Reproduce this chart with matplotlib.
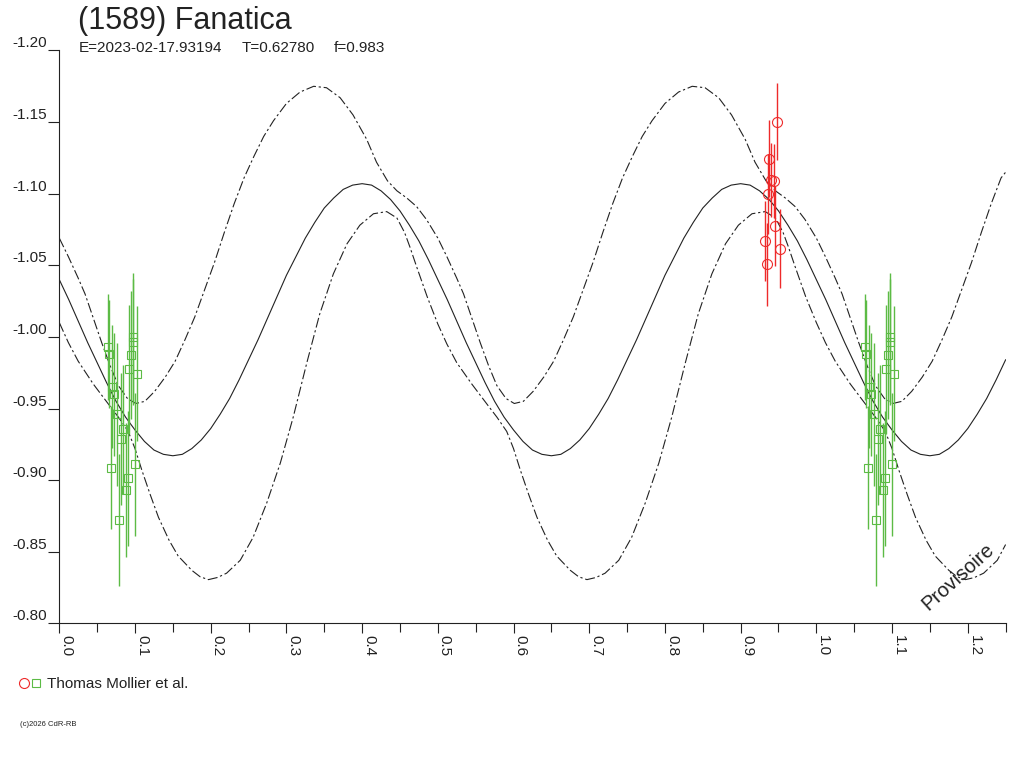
import numpy as np
import matplotlib
matplotlib.use("Agg")
import matplotlib.pyplot as plt
from matplotlib.lines import Line2D

plt.rcParams['font.family'] = ['Liberation Sans', 'DejaVu Sans']

# fitted lightcurve (solid), sampled every 0.0125 in phase
model_phase = np.linspace(0.0, 1.25, 101)
model_mag = [-1.040, -1.026, -1.011, -0.996, -0.982, -0.968, -0.955, -0.944, -0.935, -0.927,
             -0.921, -0.918, -0.917, -0.918, -0.922, -0.928, -0.936, -0.946, -0.957, -0.970,
             -0.984, -0.998, -1.013, -1.028, -1.043, -1.056, -1.069, -1.080, -1.090, -1.097,
             -1.103, -1.106, -1.107, -1.106, -1.102, -1.096, -1.088, -1.078, -1.067, -1.054,
             -1.040, -1.026, -1.011, -0.996, -0.982, -0.968, -0.955, -0.944, -0.935, -0.927,
             -0.921, -0.918, -0.917, -0.918, -0.922, -0.928, -0.936, -0.946, -0.957, -0.970,
             -0.984, -0.998, -1.013, -1.028, -1.043, -1.056, -1.069, -1.080, -1.090, -1.097,
             -1.103, -1.106, -1.107, -1.106, -1.102, -1.096, -1.088, -1.078, -1.067, -1.054,
             -1.040, -1.026, -1.011, -0.996, -0.982, -0.968, -0.955, -0.944, -0.935, -0.927,
             -0.921, -0.918, -0.917, -0.918, -0.922, -0.928, -0.936, -0.946, -0.957, -0.970,
             -0.984]

# upper (brighter) dash-dot curve
upper_phase = [0.000, 0.012, 0.025, 0.034, 0.045, 0.056, 0.067, 0.078, 0.090, 0.101,
               0.113, 0.126, 0.140, 0.153, 0.166, 0.179, 0.192, 0.205, 0.218, 0.231,
               0.244, 0.257, 0.270, 0.283, 0.300, 0.318, 0.336, 0.353, 0.371, 0.388,
               0.406, 0.419, 0.4335, 0.446, 0.459, 0.472, 0.485,
               0.500, 0.512, 0.525, 0.534, 0.545, 0.556, 0.567, 0.578, 0.590, 0.601,
               0.613, 0.626, 0.640, 0.653, 0.666, 0.679, 0.692, 0.705, 0.718, 0.731,
               0.744, 0.757, 0.770, 0.783, 0.800, 0.818, 0.836, 0.853, 0.871, 0.888,
               0.906, 0.919, 0.9335, 0.946, 0.959, 0.972, 0.985,
               1.000, 1.012, 1.025, 1.034, 1.045, 1.056, 1.067, 1.078, 1.090, 1.101,
               1.113, 1.126, 1.140, 1.153, 1.166, 1.179, 1.192, 1.205, 1.218, 1.231,
               1.244, 1.250]
upper_mag = [-1.069, -1.056, -1.041, -1.030, -1.013, -0.996, -0.980, -0.966, -0.957, -0.9535,
             -0.955, -0.962, -0.972, -0.983, -0.998, -1.014, -1.033, -1.052, -1.073, -1.093,
             -1.111, -1.126, -1.140, -1.151, -1.163, -1.171, -1.175, -1.174, -1.167, -1.155,
             -1.138, -1.122, -1.109, -1.102, -1.097, -1.091, -1.082,
             -1.069, -1.056, -1.041, -1.030, -1.013, -0.996, -0.980, -0.966, -0.957, -0.9535,
             -0.955, -0.962, -0.972, -0.983, -0.998, -1.014, -1.033, -1.052, -1.073, -1.093,
             -1.111, -1.126, -1.140, -1.151, -1.163, -1.171, -1.175, -1.174, -1.167, -1.155,
             -1.138, -1.122, -1.109, -1.102, -1.097, -1.091, -1.082,
             -1.069, -1.056, -1.041, -1.030, -1.013, -0.996, -0.980, -0.966, -0.957, -0.9535,
             -0.955, -0.962, -0.972, -0.983, -0.998, -1.014, -1.033, -1.052, -1.073, -1.093,
             -1.111, -1.115]

# lower (fainter) dash-dot curve
lower_phase = [0.000, 0.012, 0.025, 0.045, 0.065, 0.078, 0.091, 0.100, 0.109, 0.120,
               0.131, 0.145, 0.157, 0.175, 0.186, 0.197, 0.209, 0.221, 0.239, 0.256,
               0.274, 0.292, 0.309, 0.327, 0.344, 0.362, 0.380, 0.397, 0.415, 0.4325,
               0.446, 0.456, 0.463, 0.472, 0.486,
               0.500, 0.512, 0.525, 0.545, 0.565, 0.578, 0.591, 0.600, 0.609, 0.620,
               0.631, 0.645, 0.657, 0.675, 0.686, 0.697, 0.709, 0.721, 0.739, 0.756,
               0.774, 0.792, 0.809, 0.827, 0.844, 0.862, 0.880, 0.897, 0.915, 0.9325,
               0.946, 0.956, 0.963, 0.972, 0.986,
               1.000, 1.012, 1.025, 1.045, 1.065, 1.078, 1.091, 1.100, 1.109, 1.120,
               1.131, 1.145, 1.157, 1.175, 1.186, 1.197, 1.209, 1.221, 1.239, 1.250]
lower_mag = [-1.010, -0.996, -0.983, -0.967, -0.953, -0.944, -0.934, -0.922, -0.907, -0.890,
             -0.874, -0.858, -0.847, -0.837, -0.8325, -0.8305, -0.832, -0.835, -0.844, -0.860,
             -0.884, -0.912, -0.944, -0.982, -1.016, -1.044, -1.065, -1.078, -1.086, -1.0875,
             -1.083, -1.073, -1.063, -1.049, -1.028,
             -1.009, -0.995, -0.982, -0.967, -0.953, -0.944, -0.934, -0.922, -0.907, -0.890,
             -0.874, -0.858, -0.847, -0.837, -0.8325, -0.8305, -0.832, -0.835, -0.844, -0.860,
             -0.884, -0.912, -0.944, -0.982, -1.016, -1.044, -1.065, -1.078, -1.086, -1.0875,
             -1.083, -1.073, -1.063, -1.049, -1.028,
             -1.010, -0.996, -0.983, -0.967, -0.953, -0.944, -0.934, -0.922, -0.907, -0.890,
             -0.874, -0.858, -0.847, -0.837, -0.8325, -0.8305, -0.832, -0.835, -0.844, -0.855]

# Thomas Mollier et al. - green session (also drawn at phase + 1)
green_phase = [0.0639, 0.0661, 0.0974, 0.0974, 0.0952, 0.0925, 0.1022, 0.0696, 0.0723,
               0.0758, 0.0837, 0.0815, 0.0679, 0.1000, 0.0903, 0.0881, 0.0793]
green_mag = [-0.9927, -0.9881, -0.9997, -0.9964, -0.9874, -0.9774, -0.9743, -0.9652, -0.9599,
             -0.9459, -0.9355, -0.9287, -0.9087, -0.9110, -0.9013, -0.8931, -0.8719]
green_err = [0.037, 0.0375, 0.045, 0.044, 0.045, 0.045, 0.047, 0.043, 0.043,
             0.050, 0.045, 0.046, 0.043, 0.050, 0.047, 0.047, 0.046]

# Thomas Mollier et al. - red session
red_phase = [0.9477, 0.9379, 0.9398, 0.9441, 0.9362, 0.9451, 0.9318, 0.9516, 0.9345]
red_mag = [-1.1503, -1.1244, -1.1096, -1.1087, -1.0996, -1.0777, -1.0672, -1.0616, -1.0507]
red_err = [0.027, 0.027, 0.026, 0.026, 0.028, 0.028, 0.028, 0.0275, 0.029]

x_major = [0.0, 0.1, 0.2, 0.3, 0.4, 0.5, 0.6, 0.7, 0.8, 0.9, 1.0, 1.1, 1.2]
x_minor = [0.05, 0.15, 0.25, 0.35, 0.45, 0.55, 0.65, 0.75, 0.85, 0.95, 1.05, 1.15, 1.25]
y_ticks = [-1.20, -1.15, -1.10, -1.05, -1.00, -0.95, -0.90, -0.85, -0.80]

RED = '#ee2a2a'
GREEN = '#5cbb45'
INK = '#222222'

W, H = 1024, 768
fig = plt.figure(figsize=(W / 100, H / 100), dpi=100)
ax = fig.add_axes([59.3 / W, 1 - 623.3 / H, 946.3 / W, 572.8 / H])

dashdot = (0, (9, 2.5, 2, 2.5))
ax.plot(model_phase, model_mag, color=INK, lw=0.8)
ax.plot(upper_phase, upper_mag, color=INK, lw=0.8, linestyle=dashdot)
ax.plot(lower_phase, lower_mag, color=INK, lw=0.8, linestyle=dashdot)

gp = np.array(green_phase)
for shift in [0.0, 1.0]:
    ax.errorbar(gp + shift, green_mag, yerr=green_err, fmt='s', ms=5.2, mfc='none',
                mec=GREEN, mew=0.8, ecolor=GREEN, elinewidth=1.0, capsize=0, zorder=5)
ax.errorbar(red_phase, red_mag, yerr=red_err, fmt='o', ms=7.2, mfc='none',
            mec=RED, mew=0.8, ecolor=RED, elinewidth=1.0, capsize=0, zorder=6)

ax.set_xlim(0, 1.25)
ax.set_ylim(-0.80, -1.20)

for side in ['top', 'right']:
    ax.spines[side].set_visible(False)
for side in ['left', 'bottom']:
    ax.spines[side].set_color(INK)
    ax.spines[side].set_linewidth(0.8)

ax.set_xticks(x_major)
ax.set_xticks(x_minor, minor=True)
ax.set_xticklabels(['%.1f' % v for v in x_major], rotation=-90, ha='left', va='top',
                   fontsize=11, color=INK)
ax.tick_params(axis='x', which='major', length=7.5, width=0.8, color=INK, pad=1)
ax.tick_params(axis='x', which='minor', length=6.5, width=0.8, color=INK)

ax.set_yticks(y_ticks)
ax.set_yticklabels(['%.2f' % v for v in y_ticks], fontsize=11, color=INK)
ax.tick_params(axis='y', length=8, width=0.8, color=INK, pad=1)
for lab in ax.get_yticklabels():
    lab.set_verticalalignment('bottom')

# header
fig.text(78 / W, 1 - 28.5 / H, '(1589) Fanatica', fontsize=22, color=INK, va='baseline')
fig.text(79 / W, 1 - 52.5 / H, 'E=2023-02-17.93194', fontsize=11, color=INK, va='baseline')
fig.text(242 / W, 1 - 52.5 / H, 'T=0.62780', fontsize=11, color=INK, va='baseline')
fig.text(334 / W, 1 - 52.5 / H, 'f=0.983', fontsize=11, color=INK, va='baseline')

fig.text(958 / W, 1 - 577 / H, 'Provisoire', fontsize=14.5, color=INK,
         rotation=42, ha='center', va='center')

# observer legend
fig.add_artist(Line2D([24 / W], [1 - 683 / H], marker='o', ms=7.2, mfc='none', mec=RED,
                      mew=0.8, transform=fig.transFigure))
fig.add_artist(Line2D([36 / W], [1 - 683 / H], marker='s', ms=5.5, mfc='none', mec=GREEN,
                      mew=0.8, transform=fig.transFigure))
fig.text(47 / W, 1 - 688.5 / H, 'Thomas Mollier et al.', fontsize=11, color=INK,
         va='baseline')

fig.text(20 / W, 1 - 724 / H, '(c)2026 CdR-RB', fontsize=5.5, color=INK, va='center')

fig.savefig('out.png', dpi=100)
